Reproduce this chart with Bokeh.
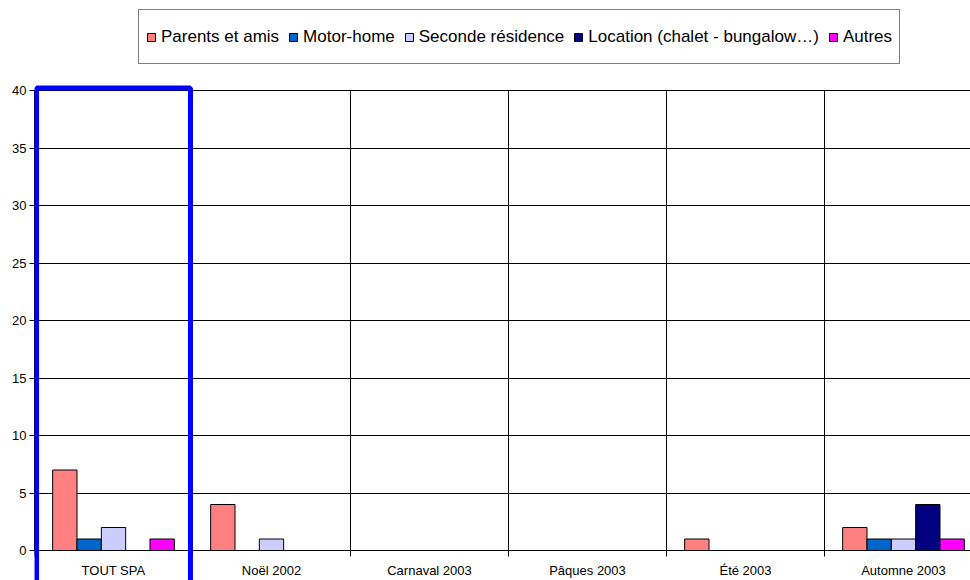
from bokeh.plotting import figure
from bokeh.models import (ColumnDataSource, Range1d, FixedTicker, Legend, LegendItem,
                          BoxAnnotation, LinearAxis)
from bokeh.embed import file_html
from bokeh.resources import INLINE

categories = ["TOUT SPA", "Noël 2002", "Carnaval 2003", "Pâques 2003", "Été 2003", "Automne 2003"]
series_names = ["Parents et amis", "Motor-home", "Seconde résidence",
                "Location (chalet - bungalow…)", "Autres"]
parents = [7, 4, 0, 0, 1, 2]
motor_home = [1, 0, 0, 0, 0, 1]
seconde = [2, 1, 0, 0, 0, 1]
location = [0, 0, 0, 0, 0, 4]
autres = [1, 0, 0, 0, 0, 1]
series_values = [parents, motor_home, seconde, location, autres]
colors = ["#FF8080", "#0066CC", "#CCCCFF", "#000080", "#FF00FF"]
y_ticks = [0, 5, 10, 15, 20, 25, 30, 35, 40]

FONT = "Liberation Sans"
PX_PER_UNIT = 11.5          # vertical scale (pixels per value unit)
Y_MAX = 40
PAD_TOP_PX = 90             # room above the 40 line (legend, highlight frame)
PAD_BOTTOM_PX = 30          # room below the 0 line for the category labels

p = figure(width=970, height=580, output_backend="svg", toolbar_location=None,
           x_range=Range1d(0, (970 - 34) / 158),
           y_range=Range1d(-PAD_BOTTOM_PX / PX_PER_UNIT, Y_MAX + PAD_TOP_PX / PX_PER_UNIT),
           x_axis_location=None,
           min_border_left=34, min_border_right=0, min_border_top=0,
           min_border_bottom=0)
p.outline_line_color = None
p.background_fill_color = "white"
p.border_fill_color = "white"

# grids
p.ygrid.ticker = FixedTicker(ticks=y_ticks[1:])
p.ygrid.grid_line_color = "black"
p.ygrid.grid_line_width = 1
p.xgrid.ticker = FixedTicker(ticks=list(range(1, len(categories) + 1)))
p.xgrid.grid_line_color = "black"
p.xgrid.grid_line_width = 1
p.xgrid.cross_bounds = (0, Y_MAX)

# y axis
p.yaxis.ticker = FixedTicker(ticks=y_ticks)
p.yaxis.bounds = (0, Y_MAX)
p.yaxis.major_tick_out = 5
p.yaxis.major_tick_in = 0
p.yaxis.minor_tick_line_color = None
p.yaxis.axis_line_color = "black"
p.yaxis.major_tick_line_color = "black"
p.yaxis.major_label_text_font = FONT
p.yaxis.major_label_text_font_size = "13px"
p.yaxis.major_label_text_color = "black"
p.yaxis.major_label_standoff = 3

# category axis, fixed at value 0
centers = [i + 0.5 for i in range(len(categories))]
xaxis = LinearAxis(fixed_location=0,
                   ticker=FixedTicker(ticks=centers,
                                      minor_ticks=list(range(0, len(categories) + 1))),
                   major_label_overrides={c: name for c, name in zip(centers, categories)},
                   major_tick_line_color=None, major_tick_out=0, major_tick_in=0,
                   minor_tick_out=0, minor_tick_in=6, minor_tick_line_color="black",
                   axis_line_color="black",
                   major_label_text_font=FONT, major_label_text_font_size="13px",
                   major_label_text_color="black", major_label_standoff=-27)
p.add_layout(xaxis, "above")

# bars
bw = 0.154
items = []
for s, (name, vals, col) in enumerate(zip(series_names, series_values, colors)):
    xs = [i + 0.5 + (s - 2) * bw for i, v in enumerate(vals) if v > 0]
    tops = [v for v in vals if v > 0]
    src = ColumnDataSource(dict(x=xs, top=tops))
    r = p.vbar(x="x", top="top", width=bw, bottom=0, source=src,
               fill_color=col, line_color="black", line_width=1)
    items.append(LegendItem(label=name, renderers=[r]))

legend = Legend(items=items, orientation="horizontal", location=(104, 516),
                label_text_font=FONT, label_text_font_size="17px",
                label_text_color="black",
                glyph_width=10, glyph_height=10, label_height=39,
                label_standoff=5, spacing=9, padding=7, margin=0,
                border_line_color="black", border_line_width=1,
                background_fill_color="white", background_fill_alpha=1)
p.add_layout(legend, "center")

# highlight frame around the first category
box = BoxAnnotation(left=0.013, right=0.987, top=Y_MAX + 2.5 / PX_PER_UNIT, bottom=-4,
                    fill_alpha=0, line_color="#0000FF", line_alpha=1, line_width=5)
p.add_layout(box)

open("out.html", "w").write(file_html(p, INLINE))
